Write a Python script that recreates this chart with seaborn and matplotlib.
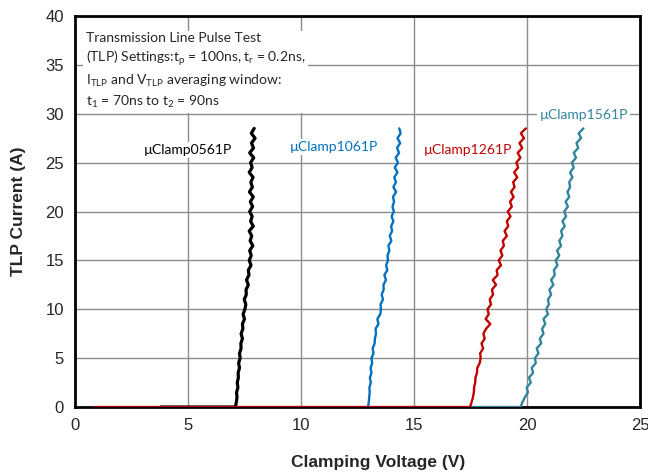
import pandas as pd
import seaborn as sns
import matplotlib.pyplot as plt

# TLP current steps (A); first two points are the flat baseline start and the knee
tlp_current = [0.0, 0.0,
               0.5, 1.0, 1.5, 2.0, 2.5, 3.0, 3.5, 4.0, 4.5, 5.0,
               5.5, 6.0, 6.5, 7.0, 7.5, 8.0, 8.5, 9.0, 9.5, 10.0,
               10.5, 11.0, 11.5, 12.0, 12.5, 13.0, 13.5, 14.0, 14.5, 15.0,
               15.5, 16.0, 16.5, 17.0, 17.5, 18.0, 18.5, 19.0, 19.5, 20.0,
               20.5, 21.0, 21.5, 22.0, 22.5, 23.0, 23.5, 24.0, 24.5, 25.0,
               25.5, 26.0, 26.5, 27.0, 27.5, 28.0, 28.5]

v_0561 = [3.8, 7.10,
          7.14, 7.17, 7.15, 7.21, 7.18, 7.23, 7.22, 7.28, 7.24, 7.31,
          7.28, 7.35, 7.34, 7.41, 7.35, 7.43, 7.41, 7.50, 7.44, 7.52,
          7.56, 7.49, 7.58, 7.57, 7.67, 7.59, 7.70, 7.67, 7.79, 7.71,
          7.80, 7.73, 7.87, 7.75, 7.82, 7.71, 7.89, 7.77, 7.84, 7.73,
          7.86, 7.76, 7.89, 7.72, 7.85, 7.78, 7.88, 7.71, 7.84, 7.77,
          7.91, 7.73, 7.90, 7.81, 7.97, 7.80, 7.93]

v_1061 = [12.9, 12.97,
          13.00, 13.02, 13.04, 13.03, 13.09, 13.05, 13.12, 13.08, 13.15, 13.12,
          13.21, 13.17, 13.26, 13.27, 13.32, 13.30, 13.43, 13.38, 13.51, 13.54,
          13.52, 13.63, 13.57, 13.66, 13.65, 13.76, 13.69, 13.82, 13.77, 13.85,
          13.83, 13.91, 13.87, 14.00, 13.93, 14.03, 13.99, 14.09, 14.01, 14.11,
          14.05, 14.12, 14.07, 14.21, 14.09, 14.20, 14.13, 14.27, 14.15, 14.29,
          14.19, 14.34, 14.25, 14.39, 14.27, 14.41, 14.35]

v_1261 = [0.9, 17.48,
          17.55, 17.61, 17.65, 17.66, 17.71, 17.72, 17.79, 17.80, 17.91, 17.95,
          17.93, 18.06, 17.99, 18.13, 18.07, 18.19, 18.38, 18.17, 18.31, 18.25,
          18.41, 18.35, 18.50, 18.45, 18.63, 18.49, 18.70, 18.66, 18.85, 18.75,
          18.91, 18.83, 18.98, 18.93, 19.11, 19.01, 19.17, 19.11, 19.27, 19.15,
          19.33, 19.25, 19.41, 19.29, 19.45, 19.39, 19.57, 19.43, 19.61, 19.53,
          19.71, 19.59, 19.79, 19.67, 19.87, 19.73, 19.95]

v_1561 = [17.5, 19.72,
          19.80, 19.91, 20.04, 19.99, 20.17, 20.09, 20.27, 20.21, 20.39, 20.35,
          20.51, 20.43, 20.63, 20.57, 20.73, 20.67, 20.81, 20.73, 20.93, 20.85,
          20.97, 20.93, 21.07, 20.99, 21.17, 21.07, 21.23, 21.19, 21.35, 21.27,
          21.43, 21.33, 21.51, 21.43, 21.57, 21.51, 21.67, 21.57, 21.73, 21.65,
          21.81, 21.71, 21.87, 21.79, 21.91, 21.87, 22.01, 21.91, 22.07, 21.99,
          22.17, 22.07, 22.27, 22.19, 22.39, 22.29, 22.50]

devices = ["µClamp0561P", "µClamp1061P", "µClamp1261P", "µClamp1561P"]
colors = ["#000000", "#0070C0", "#C00000", "#31849B"]
label_pos = [(5.0, 26.3), (11.45, 26.6), (17.4, 26.3), (22.5, 29.9)]

sns.set_style("white")
plt.rcParams["font.family"] = ["Liberation Sans", "DejaVu Sans"]
plt.rcParams["mathtext.default"] = "regular"

fig = plt.figure(figsize=(6.48, 4.73), dpi=100)
ax = fig.add_axes([0.1157, 0.1395, 0.8719, 0.8267])

# draw order: blue, teal, red, black on top
series = {"µClamp1061P": v_1061, "µClamp1561P": v_1561,
          "µClamp1261P": v_1261, "µClamp0561P": v_0561}
for name, volts in series.items():
    i = devices.index(name)
    lw = 2.3 if name == "µClamp0561P" else 1.7
    sns.lineplot(x=volts, y=tlp_current, sort=False, estimator=None,
                 color=colors[i], linewidth=lw, ax=ax, zorder=3 + i % 3)

ax.set_xlim(0, 25)
ax.set_ylim(0, 40)
ax.set_xticks(range(0, 26, 5))
ax.set_yticks(range(0, 41, 5))
ax.grid(True, color="#8c8c8c", linewidth=1.0)
for s in ax.spines.values():
    s.set_color("black")
    s.set_linewidth(2.0)
    s.set_visible(True)
ax.tick_params(axis="both", labelsize=12, length=0, pad=8)

ax.set_xlabel("Clamping Voltage (V)", fontsize=12.5, fontweight="bold")
ax.xaxis.set_label_coords(0.536, -0.122)
ax.set_ylabel("TLP Current (A)", fontsize=12.5, fontweight="bold", labelpad=14)

box_text = ("Transmission Line Pulse Test\n"
            "(TLP) Settings:t$_p$ = 100ns, t$_r$ = 0.2ns,\n"
            "I$_{TLP}$ and V$_{TLP}$ averaging window:\n"
            "t$_1$ = 70ns to t$_2$ = 90ns")
ax.text(0.5, 38.4, box_text, fontsize=10, family="Lato", va="top", ha="left",
        linespacing=1.38, zorder=6,
        bbox=dict(facecolor="white", edgecolor="none", pad=2))

for name, col, (x, y) in zip(devices, colors, label_pos):
    ax.text(x, y, name, color=col, fontsize=10, family="Lato", ha="center",
            va="center", zorder=2,
            bbox=dict(facecolor="white", edgecolor="none", pad=1.5))

fig.savefig("out.png", dpi=100)
